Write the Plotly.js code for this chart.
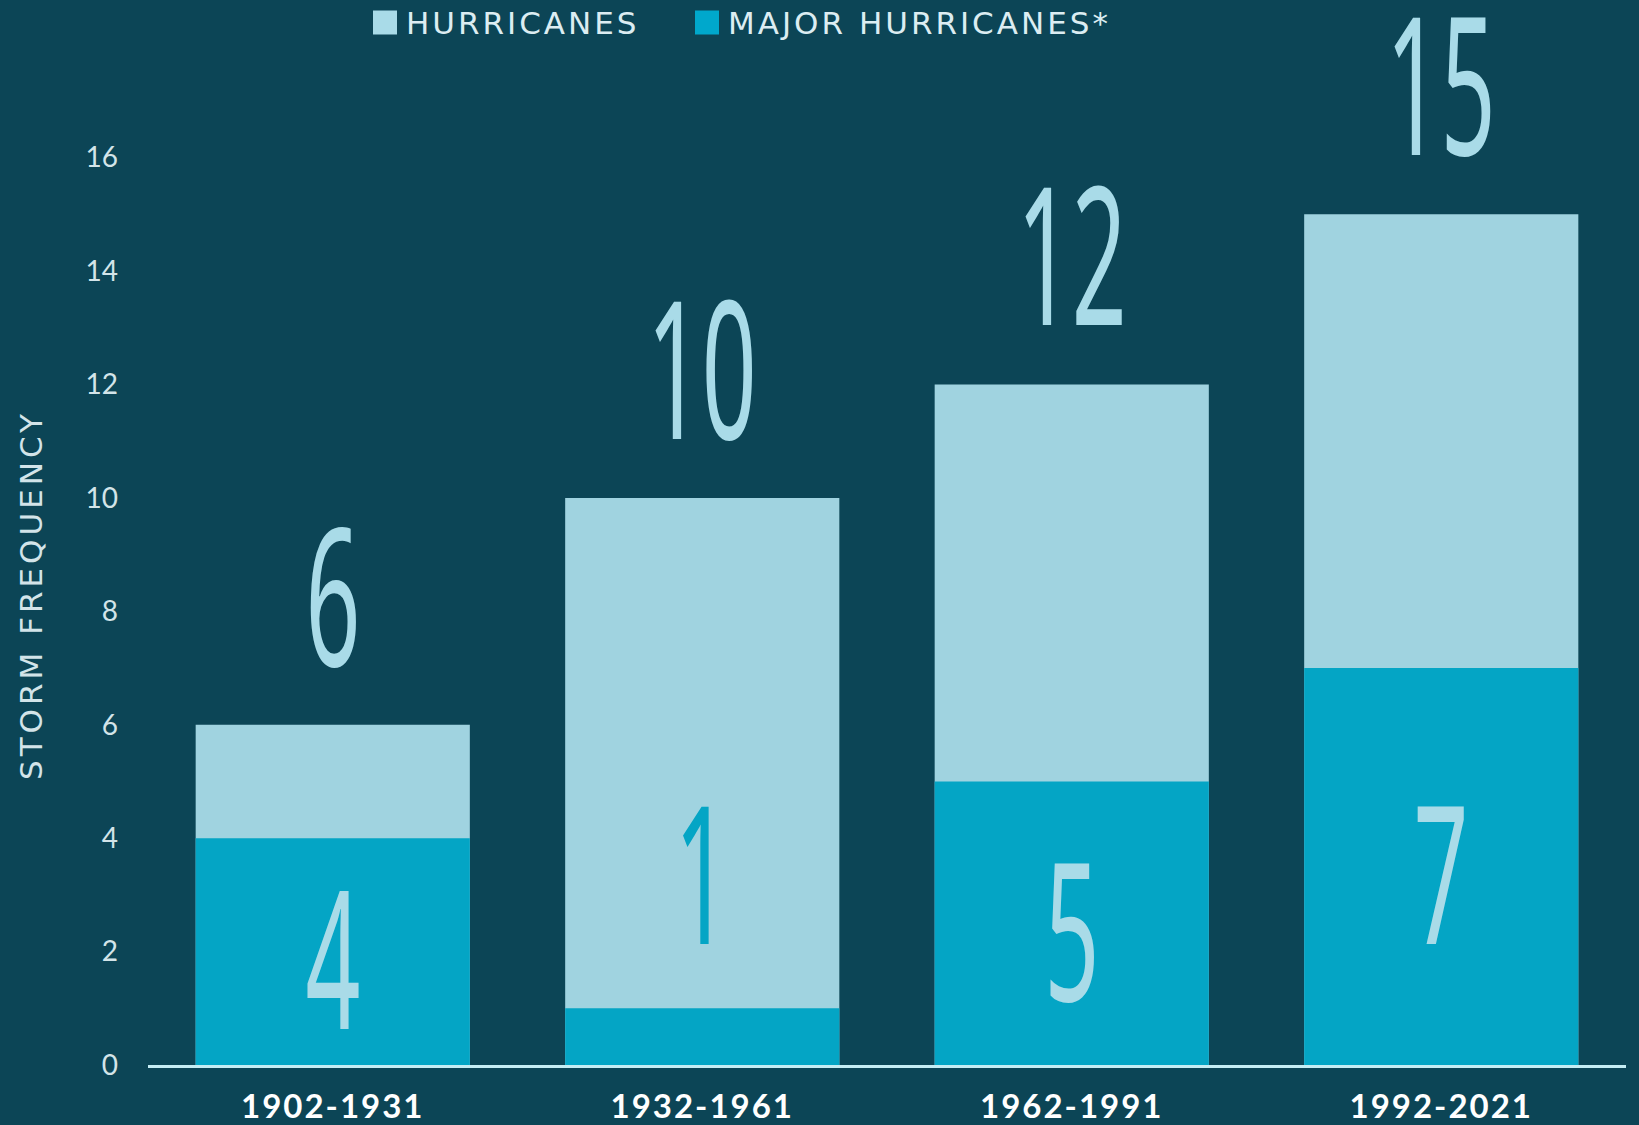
<!DOCTYPE html>
<html>
<head>
<meta charset="utf-8">
<script src="https://cdn.plot.ly/plotly-3.0.1.min.js"></script>
<style>
  html, body { margin: 0; padding: 0; background: #0c4556; }
  #chart { width: 1639px; height: 1125px; }
</style>
</head>
<body>
<div id="chart"></div>
<script>
// ---- data ----
const periods = ['1902-1931', '1932-1961', '1962-1991', '1992-2021'];
const hurricanes = [6, 10, 12, 15];
const majorHurricanes = [4, 1, 5, 7];
const yTickValues = [0, 2, 4, 6, 8, 10, 12, 14, 16];
const legendNames = ['HURRICANES', 'MAJOR HURRICANES*'];
const yTitle = 'STORM FREQUENCY';

// ---- style ----
const BG = '#0c4556';
const LIGHT = '#a0d3e0';
const DARK = '#04a5c5';
const NUM_LIGHT = '#a9dbe8';
const TICK_COLOR = '#d3e4e9';

const W = 1639, H = 1125;
const M = { l: 148, r: 13, t: 8, b: 60 };
const plotW = W - M.l - M.r, plotH = H - M.t - M.b;
const PX_PER_UNIT = 56.71;
const px2x = px => (px - M.l) / plotW;
const px2y = py => (H - M.b - py) / plotH;
const spaced = (s, ls) => `<span style="letter-spacing:${ls}px">${s}</span>`;

const bigFont = { family: 'Noto Sans', size: 192, color: NUM_LIGHT };

const annotations = [];
const bigIdx = [];
periods.forEach((p, i) => {
  bigIdx.push(annotations.length);
  annotations.push({
    x: p, y: hurricanes[i], xref: 'x', yref: 'y',
    text: String(hurricanes[i]), showarrow: false,
    xanchor: 'center', yanchor: 'middle', yshift: 134,
    height: 162, valign: 'middle',
    font: bigFont
  });
});
periods.forEach((p, i) => {
  const m = majorHurricanes[i];
  bigIdx.push(annotations.length);
  annotations.push({
    x: p, y: m >= 2 ? m / 2 - 0.05 : 3.45, xref: 'x', yref: 'y',
    text: String(m), showarrow: false,
    xanchor: 'center', yanchor: 'middle',
    height: 162, valign: 'middle',
    font: Object.assign({}, bigFont, { color: m >= 2 ? NUM_LIGHT : DARK })
  });
});
// legend (squares + labels)
const legendText = [404, 726];
const legendSq = [373, 695];
const legendCol = [NUM_LIGHT, '#00a8cc'];
const shapes = [];
legendNames.forEach((n, i) => {
  shapes.push({
    type: 'rect', xref: 'paper', yref: 'paper',
    x0: px2x(legendSq[i]), x1: px2x(legendSq[i] + 24),
    y0: px2y(34.5), y1: px2y(10.5),
    fillcolor: legendCol[i], line: { width: 0 }
  });
  annotations.push({
    x: px2x(legendText[i]), y: px2y(22.5), xref: 'paper', yref: 'paper',
    text: spaced(n, 3), showarrow: false, xanchor: 'left', yanchor: 'middle',
    font: { family: 'DejaVu Sans', size: 31, color: '#dcedf2' }
  });
});
// y-axis title
annotations.push({
  x: px2x(31), y: px2y(595), xref: 'paper', yref: 'paper',
  text: spaced(yTitle, 4), showarrow: false, textangle: -90,
  xanchor: 'center', yanchor: 'middle',
  font: { family: 'DejaVu Sans', size: 31, color: TICK_COLOR }
});

const traces = [
  {
    type: 'bar', name: legendNames[0], x: periods, y: hurricanes,
    marker: { color: LIGHT, line: { width: 0 } }, hoverinfo: 'skip'
  },
  {
    type: 'bar', name: legendNames[1], x: periods, y: majorHurricanes,
    marker: { color: DARK, line: { width: 0 } }, hoverinfo: 'skip'
  }
];

const layout = {
  width: W, height: H,
  margin: M,
  paper_bgcolor: BG, plot_bgcolor: BG,
  barmode: 'overlay', bargap: 0.258,
  showlegend: false,
  xaxis: {
    type: 'category', range: [-0.5, 3.5],
    tickvals: periods, ticktext: periods.map(p => spaced(p, 2)),
    showgrid: false, zeroline: false, ticks: '',
    showline: true, linecolor: '#c5edf4', linewidth: 3,
    tickfont: { family: 'Lato', size: 33, weight: 700, color: '#ffffff' },
    ticklabelstandoff: 10
  },
  yaxis: {
    range: [0, plotH / PX_PER_UNIT], tickvals: yTickValues,
    showgrid: false, zeroline: false, showline: false, ticks: '',
    tickfont: { family: 'Lato', size: 28, color: TICK_COLOR },
    ticklabelstandoff: 29
  },
  annotations: annotations,
  shapes: shapes
};

Plotly.newPlot('chart', traces, layout, { staticPlot: true }).then(gd => {
  // condense the big number glyphs horizontally
  gd.querySelectorAll('g.annotation').forEach(g => {
    const idx = +g.getAttribute('data-index');
    if (bigIdx.indexOf(idx) < 0) return;
    const t = g.querySelector('text');
    if (!t) return;
    const bb = t.getBBox();
    const cx = bb.x + bb.width / 2;
    t.setAttribute('transform', `translate(${cx},0) scale(0.5,1) translate(${-cx},0)`);
  });
});
</script>
</body>
</html>
